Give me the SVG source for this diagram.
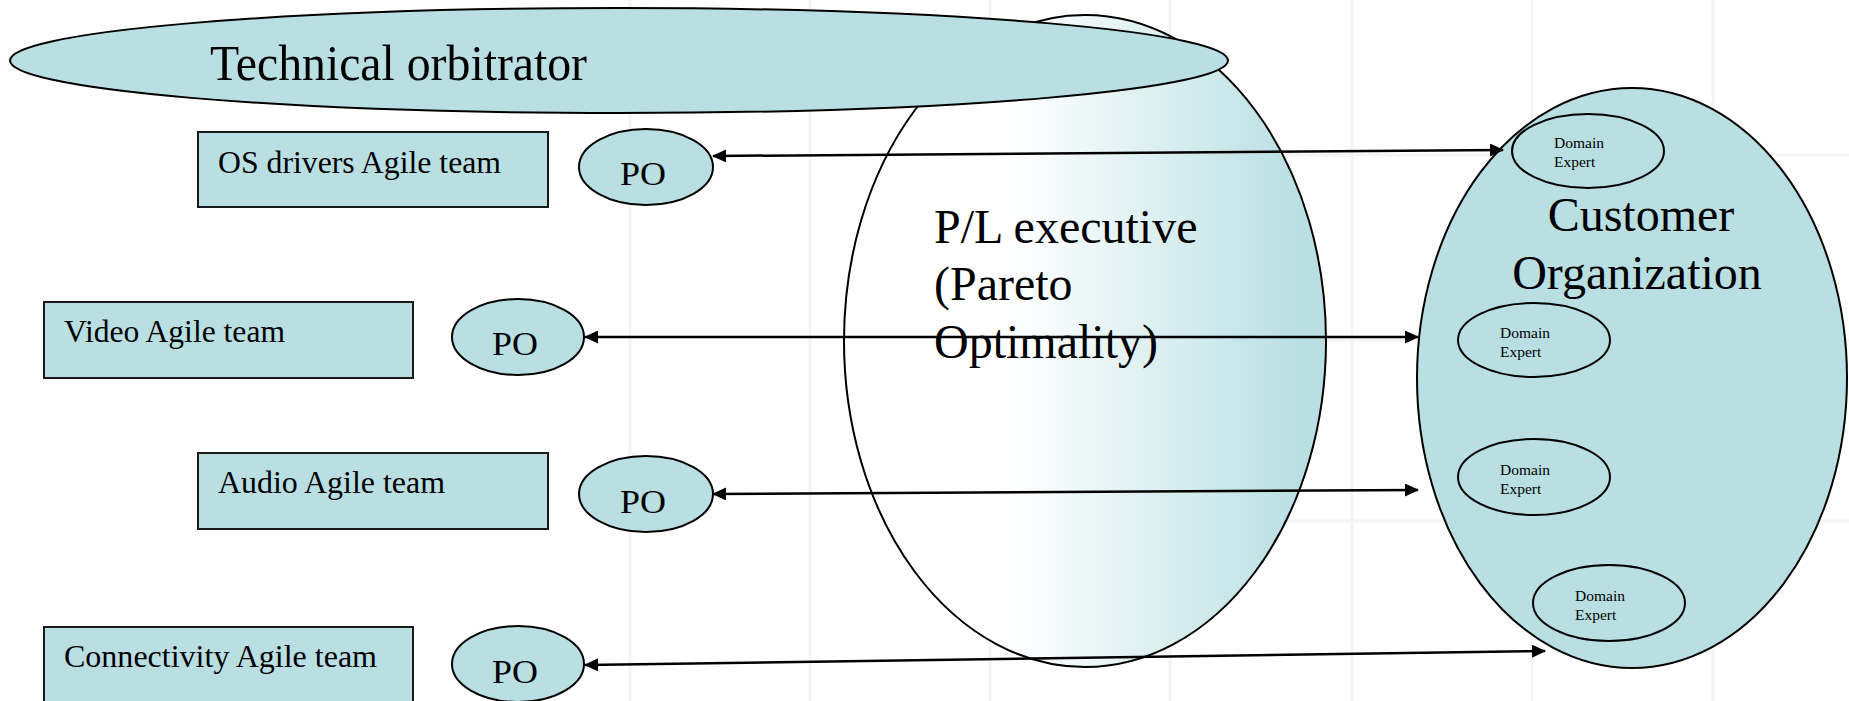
<svg xmlns="http://www.w3.org/2000/svg" width="1849" height="701" viewBox="0 0 1849 701">
  <style>
    .shape { fill: #b9dfe3; stroke: #000; stroke-width: 2; }
    .box { fill: #b9dfe3; stroke: #1a1a1a; stroke-width: 2; }
    .grid { stroke: #f4f4f4; stroke-width: 3; fill: none; }
    .link { stroke: #000; stroke-width: 2.5; fill: none; marker-start: url(#head); marker-end: url(#head); }
    .serif { font-family: "Liberation Serif", "Times New Roman", serif; fill: #000; }
    .team { font-size: 32px; }
    .po { font-size: 34px; text-anchor: middle; }
    .big { font-size: 48px; }
    .de { font-size: 15.5px; }
  </style>
  <defs>
    <linearGradient id="plFill" x1="0" y1="0" x2="1" y2="0">
      <stop offset="0" stop-color="#ffffff"/>
      <stop offset="0.35" stop-color="#ffffff"/>
      <stop offset="0.95" stop-color="#b9dfe3"/>
      <stop offset="1" stop-color="#b9dfe3"/>
    </linearGradient>
    <marker id="head" viewBox="0 0 14 13" refX="13" refY="6.5" markerWidth="14" markerHeight="13" markerUnits="userSpaceOnUse" orient="auto-start-reverse">
      <path d="M0,0 L14,6.5 L0,13 z" fill="#000"/>
    </marker>
  </defs>

  <rect width="1849" height="701" fill="#ffffff"/>

  <!-- faint background grid -->
  <g id="grid" class="grid">
    <line x1="630" y1="0" x2="630" y2="701"/>
    <line x1="810" y1="0" x2="810" y2="701"/>
    <line x1="990" y1="0" x2="990" y2="701"/>
    <line x1="1170" y1="0" x2="1170" y2="701"/>
    <line x1="1352" y1="0" x2="1352" y2="701"/>
    <line x1="1532" y1="0" x2="1532" y2="701"/>
    <line x1="1713" y1="0" x2="1713" y2="701"/>
    <line x1="900" y1="155" x2="1849" y2="155"/>
    <line x1="900" y1="340" x2="1849" y2="340"/>
    <line x1="900" y1="521" x2="1849" y2="521"/>
  </g>

  <!-- P/L executive -->
  <g id="pl-executive">
    <ellipse cx="1085" cy="341" rx="241" ry="326" fill="url(#plFill)" stroke="#000" stroke-width="2"/>
  </g>

  <!-- Technical orbitrator -->
  <g id="technical-orbitrator">
    <ellipse class="shape" cx="619" cy="60.5" rx="609" ry="52.5"/>
    <text class="serif" x="210" y="80" font-size="50" textLength="377" lengthAdjust="spacingAndGlyphs">Technical orbitrator</text>
  </g>

  <!-- Customer organization with domain experts -->
  <g id="customer-organization">
    <ellipse class="shape" cx="1632" cy="378" rx="215" ry="290"/>
    <text class="serif big" x="1641" y="231" text-anchor="middle">Customer</text>
    <text class="serif big" x="1637" y="289" text-anchor="middle">Organization</text>
  </g>
  <g id="domain-expert-1">
    <ellipse class="shape" cx="1588" cy="151" rx="76" ry="37"/>
    <text class="serif de" x="1554" y="148">Domain</text>
    <text class="serif de" x="1554" y="167">Expert</text>
  </g>
  <g id="domain-expert-2">
    <ellipse class="shape" cx="1534" cy="340" rx="76" ry="37"/>
    <text class="serif de" x="1500" y="338">Domain</text>
    <text class="serif de" x="1500" y="357">Expert</text>
  </g>
  <g id="domain-expert-3">
    <ellipse class="shape" cx="1534" cy="477" rx="76" ry="38"/>
    <text class="serif de" x="1500" y="475">Domain</text>
    <text class="serif de" x="1500" y="494">Expert</text>
  </g>
  <g id="domain-expert-4">
    <ellipse class="shape" cx="1609" cy="603" rx="76" ry="38"/>
    <text class="serif de" x="1575" y="601">Domain</text>
    <text class="serif de" x="1575" y="620">Expert</text>
  </g>

  <!-- Agile teams -->
  <g id="team-os-drivers">
    <rect class="box" x="198" y="132" width="350" height="75"/>
    <text class="serif team" x="218" y="173" textLength="283" lengthAdjust="spacingAndGlyphs">OS drivers Agile team</text>
  </g>
  <g id="team-video">
    <rect class="box" x="44" y="302" width="369" height="76"/>
    <text class="serif team" x="64" y="342" textLength="221" lengthAdjust="spacingAndGlyphs">Video Agile team</text>
  </g>
  <g id="team-audio">
    <rect class="box" x="198" y="453" width="350" height="76"/>
    <text class="serif team" x="218" y="493" textLength="227" lengthAdjust="spacingAndGlyphs">Audio Agile team</text>
  </g>
  <g id="team-connectivity">
    <rect class="box" x="44" y="627" width="369" height="90"/>
    <text class="serif team" x="64" y="667" textLength="313" lengthAdjust="spacingAndGlyphs">Connectivity Agile team</text>
  </g>

  <!-- Product owners -->
  <g id="po-1">
    <ellipse class="shape" cx="646" cy="167" rx="67" ry="38"/>
    <text class="serif po" x="643" y="185" textLength="46" lengthAdjust="spacingAndGlyphs">PO</text>
  </g>
  <g id="po-2">
    <ellipse class="shape" cx="518" cy="337" rx="66" ry="38"/>
    <text class="serif po" x="515" y="355" textLength="46" lengthAdjust="spacingAndGlyphs">PO</text>
  </g>
  <g id="po-3">
    <ellipse class="shape" cx="646" cy="494" rx="67" ry="38"/>
    <text class="serif po" x="643" y="513" textLength="46" lengthAdjust="spacingAndGlyphs">PO</text>
  </g>
  <g id="po-4">
    <ellipse class="shape" cx="518" cy="664" rx="66" ry="38"/>
    <text class="serif po" x="515" y="683" textLength="46" lengthAdjust="spacingAndGlyphs">PO</text>
  </g>

  <!-- P/L executive label -->
  <g id="pl-label">
    <text class="serif big" x="934" y="243">P/L executive</text>
    <text class="serif big" x="934" y="300">(Pareto</text>
    <text class="serif big" x="934" y="358">Optimality)</text>
  </g>

  <!-- two-way links between product owners and the customer side -->
  <g id="connectors">
    <line class="link" x1="713" y1="156" x2="1503" y2="150"/>
    <line class="link" x1="585" y1="337" x2="1418" y2="337"/>
    <line class="link" x1="713" y1="494" x2="1418" y2="490"/>
    <line class="link" x1="585" y1="665" x2="1545" y2="651"/>
  </g>
</svg>
